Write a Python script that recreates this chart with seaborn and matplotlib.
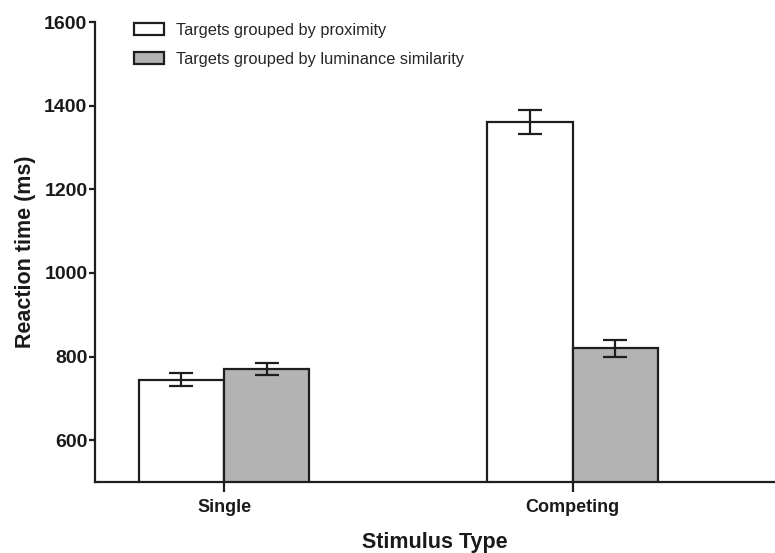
import numpy as np
import pandas as pd
import matplotlib
matplotlib.use("Agg")
import matplotlib.pyplot as plt
import seaborn as sns

# Mean reaction times and standard errors
stimulus_types = ["Single", "Competing"]
groupings = ["Targets grouped by proximity", "Targets grouped by luminance similarity"]
rt_proximity = [745, 1360]
rt_luminance = [771, 820]
se_proximity = [15, 29]
se_luminance = [14, 20]

df = pd.DataFrame({
    "Stimulus Type": stimulus_types * 2,
    "Grouping": [groupings[0]] * 2 + [groupings[1]] * 2,
    "RT": rt_proximity + rt_luminance,
    "SE": se_proximity + se_luminance,
})

sns.set_theme(style="ticks")
plt.rcParams["font.family"] = ["Liberation Sans", "DejaVu Sans"]

fig = plt.figure(figsize=(7.75, 5.53), dpi=100)
ax = fig.add_axes([0.1226, 0.1284, 0.8774, 0.8318])

edge = "#1e1e1e"
sns.barplot(data=df, x="Stimulus Type", y="RT", hue="Grouping",
            order=stimulus_types, hue_order=groupings,
            palette=["white", "#b3b3b3"], width=0.49, errorbar=None,
            edgecolor=edge, linewidth=1.6, saturation=1, ax=ax)

# Error bars at the bar centres
bars = [p for p in ax.patches if p.get_height() > 0 and p.get_width() < 1][:4]
for p in bars:
    xc = p.get_x() + p.get_width() / 2
    h = p.get_height()
    row = df[np.isclose(df["RT"], h)].iloc[0]
    ax.errorbar(xc, h, yerr=row["SE"], fmt="none", ecolor=edge,
                elinewidth=1.6, capsize=8.5, capthick=1.6, zorder=5)

ax.set_ylim(500, 1600)
ax.set_yticks([600, 800, 1000, 1200, 1400, 1600])
ax.set_xlim(-0.37, 1.58)
sns.despine(ax=ax)
ax.spines["left"].set_bounds(500, 1600)
for s in ["left", "bottom"]:
    ax.spines[s].set_linewidth(1.6)
    ax.spines[s].set_color(edge)
ax.tick_params(axis="y", length=4.5, width=1.6, color=edge, pad=1,
               labelsize=14)
ax.tick_params(axis="x", length=7, width=1.6, color=edge, pad=5,
               labelsize=13)
for lbl in ax.get_xticklabels() + ax.get_yticklabels():
    lbl.set_fontweight("bold")
    lbl.set_color("#1a1a1a")

ax.set_ylabel("Reaction time (ms)", fontsize=15.5, fontweight="bold",
              color="#1a1a1a", labelpad=6)
ax.set_xlabel("Stimulus Type", fontsize=15.5, fontweight="bold",
              color="#1a1a1a", labelpad=12)

leg = ax.legend(loc="upper left", bbox_to_anchor=(0.035, 1.03), frameon=False,
                fontsize=11.8, handlelength=1.85, handleheight=0.7,
                handletextpad=0.75, labelspacing=0.85)
for h in leg.legend_handles:
    h.set_edgecolor(edge)
    h.set_linewidth(1.6)

fig.savefig("out.png", dpi=100)
